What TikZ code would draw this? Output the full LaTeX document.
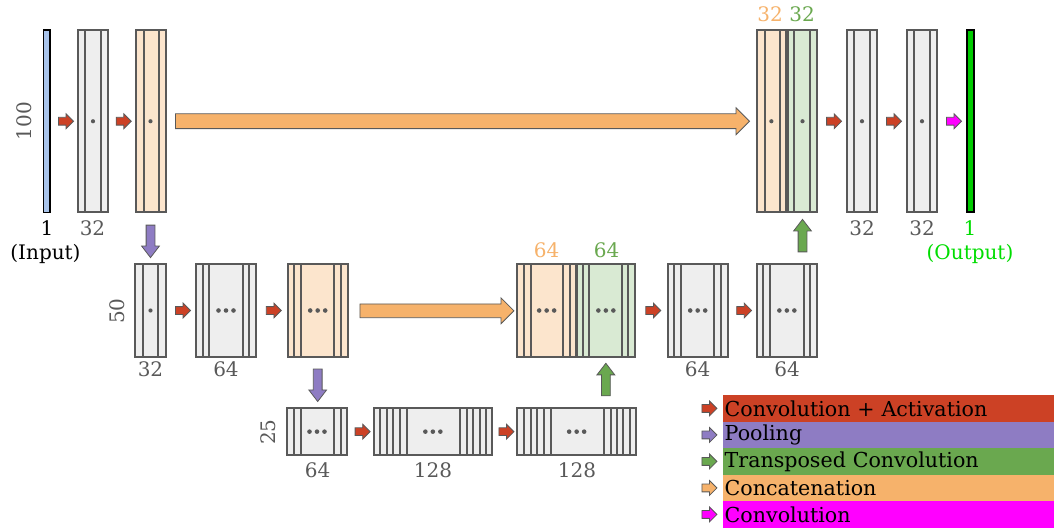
\documentclass[tikz,border=0pt]{standalone}
\usepackage{fontspec}
\setmainfont{DejaVu Serif}
\usetikzlibrary{shapes.arrows,calc}

\definecolor{ink}{HTML}{595959}
\definecolor{convred}{HTML}{CC4125}
\definecolor{poolpurple}{HTML}{8E7CC3}
\definecolor{upgreen}{HTML}{6AA84F}
\definecolor{catorange}{HTML}{F6B26B}
\definecolor{convmag}{HTML}{FF00FF}
\definecolor{mapgray}{HTML}{EEEEEE}
\definecolor{maporange}{HTML}{FCE5CD}
\definecolor{mapgreen}{HTML}{D9EAD3}
\definecolor{inblue}{HTML}{A9C4EB}
\definecolor{outgreen}{HTML}{00CC00}
\definecolor{outtext}{HTML}{00DD00}

% vertical channel separators inside a feature map
\newcommand\strips[2]{\foreach \o in {#2}{\draw[stripline] ([xshift=\o pt]#1.north west) -- ([xshift=\o pt]#1.south west);}}
\newcommand\onedot[1]{\fill[ink] (#1.center) circle (2.1pt);}
\newcommand\threedots[1]{\foreach \d in {-7.5,0,7.5}{\fill[ink] ([xshift=\d pt]#1.center) circle (2.3pt);}}

\begin{document}
\begin{tikzpicture}[x=1pt,y=-1pt,
  fmap/.style={rectangle, draw=ink, line width=2pt, inner sep=0pt, outer sep=0pt, anchor=north west},
  stripline/.style={draw=ink, line width=2pt},
  blockarrow/.style={single arrow, draw=black!65, line width=0.8pt, inner xsep=0pt,
    text height=0pt, text depth=0pt, text width=0pt, anchor=center, outer sep=0pt},
  smallarrow/.style={blockarrow, inner ysep=3.5pt, single arrow head extend=3.5pt, minimum height=15pt},
  vertarrow/.style={blockarrow, inner ysep=4pt, single arrow head extend=4.5pt,
    single arrow tip angle=75, minimum height=32.5pt},
  dimlabel/.style={text=ink, font=\fontsize{20}{22}\selectfont, inner sep=0pt},
  legbar/.style={rectangle, anchor=north west, inner xsep=1.5pt, inner ysep=0pt,
    text width=328pt, minimum height=26.5pt, align=left, text=black,
    font=\fontsize{20.6}{22}\selectfont}
]
\useasboundingbox (0,0) rectangle (1054,529);

% ---- top level (100 samples) ----
\node[fmap, fill=inblue, draw=black, line width=1.6pt, minimum width=6.5, minimum height=182.5] (in) at (43.5,30) {};
\node[fmap, fill=mapgray, minimum width=30, minimum height=182.5] (b1) at (78,30) {};
\node[fmap, fill=maporange, minimum width=30, minimum height=182.5] (b2) at (135.5,30) {};
\node[fmap, fill=maporange, minimum width=28.7, minimum height=182.5] (cat1o) at (757,30) {};
\node[fmap, fill=mapgreen, minimum width=29.6, minimum height=182.5] (cat1g) at (787.7,30) {};
\node[fmap, fill=mapgray, minimum width=30, minimum height=182.5] (b3) at (847,30) {};
\node[fmap, fill=mapgray, minimum width=30, minimum height=182.5] (b4) at (907,30) {};
\node[fmap, fill=outgreen, draw=black, minimum width=7, minimum height=182.5] (out) at (967,30) {};

\strips{b1}{6.7,23.3}
\strips{b2}{8,23}
\strips{cat1o}{7.5,23}
\strips{cat1g}{6.6,22.3}
\strips{b3}{6.5,23}
\strips{b4}{6.5,23}
\foreach \n in {b1,b2,cat1o,cat1g,b3,b4}{\onedot{\n}}

% ---- middle level (50 samples) ----
\node[fmap, fill=mapgray, minimum width=31, minimum height=92] (c1) at (135,264.5) {};
\node[fmap, fill=mapgray, minimum width=60, minimum height=92] (c2) at (196,264.5) {};
\node[fmap, fill=maporange, minimum width=60, minimum height=92] (c3) at (287.7,264.5) {};
\node[fmap, fill=maporange, minimum width=58.7, minimum height=92] (cat2o) at (517.3,264.5) {};
\node[fmap, fill=mapgreen, minimum width=58.3, minimum height=92] (cat2g) at (576.7,264.5) {};
\node[fmap, fill=mapgray, minimum width=60, minimum height=92] (c4) at (667.7,264.5) {};
\node[fmap, fill=mapgray, minimum width=60.3, minimum height=92] (c5) at (756.7,264.5) {};

\strips{c1}{7.7,23.3}
\strips{c2}{7.3,13.3,46.7,53.3}
\strips{c3}{6.6,13.3,46.6,53.3}
\strips{cat2o}{6.7,13.4,46,52.7}
\strips{cat2g}{6,12.6,45,51.6}
\strips{c4}{6.6,13.3,46.6,53.3}
\strips{c5}{6.6,13.3,47,53.6}
\onedot{c1}
\foreach \n in {c2,c3,cat2o,cat2g,c4,c5}{\threedots{\n}}

% ---- bottom level (25 samples) ----
\node[fmap, fill=mapgray, minimum width=60.6, minimum height=46.7] (d1) at (286.7,408.3) {};
\node[fmap, fill=mapgray, minimum width=117.7, minimum height=46.7] (d2) at (374,408.3) {};
\node[fmap, fill=mapgray, minimum width=118.7, minimum height=46.7] (d3) at (517.3,408.3) {};

\strips{d1}{7.3,14,47.3,54}
\strips{d2}{6,12.7,19.3,26,32.7,86,92.7,99.3,106,112}
\strips{d3}{6.7,13.4,19.4,26.7,33.4,86.7,93.4,100,106,112.7}
\foreach \n in {d1,d2,d3}{\threedots{\n}}

% ---- convolution + activation ----
\foreach \a/\b in {in/b1,b1/b2,cat1g/b3,b3/b4,c1/c2,c2/c3,cat2g/c4,c4/c5,d1/d2,d2/d3}{
  \node[smallarrow, fill=convred] (conv-\a) at ($(\a.east)!0.5!(\b.west)$) {};
}
% ---- final convolution ----
\node[smallarrow, fill=convmag] (conv-out) at ($(b4.east)!0.5!(out.west)$) {};

% ---- pooling ----
\node[vertarrow, fill=poolpurple, rotate=-90] (pool1) at ($(b2.south)!0.5!(b2.south|-c1.north)$) {};
\node[vertarrow, fill=poolpurple, rotate=-90] (pool2) at ($(c3.south)!0.5!(c3.south|-d1.north)$) {};

% ---- transposed convolution ----
\node[vertarrow, fill=upgreen, rotate=90] (up1) at ($(cat2g.south)!0.5!(cat2g.south|-d3.north)$) {};
\node[vertarrow, fill=upgreen, rotate=90] (up2) at ($(cat1g.south)!0.5!(cat1g.south|-c5.north)$) {};

% ---- skip connections (concatenation) ----
\node[blockarrow, fill=catorange, inner ysep=7pt, single arrow head extend=6pt, minimum height=574pt]
  (skip1) at ($(b2.east)!0.5!(cat1o.west)+(-2.5,0)$) {};
\node[blockarrow, fill=catorange, inner ysep=6.5pt, single arrow head extend=6pt, minimum height=154pt]
  (skip2) at ($(c3.east)!0.5!(cat2o.west)+(1,0.3)$) {};

% ---- sizes ----
\node[dimlabel, rotate=90] (s100) at (24,121) {100};
\node[dimlabel, rotate=90] (s50) at (117,311) {50};
\node[dimlabel, rotate=90] (s25) at (268,432) {25};

\node[dimlabel, text=black] (n-in) at (47,228) {1};
\node[dimlabel, text=black] (t-in) at (45.5,254) {(Input)};
\node[dimlabel] (n-b1) at (92.5,228) {32};
\node[dimlabel, text=catorange] (n-cat1o) at (770,14) {32};
\node[dimlabel, text=upgreen] (n-cat1g) at (802,14) {32};
\node[dimlabel] (n-b3) at (862,228) {32};
\node[dimlabel] (n-b4) at (922,228) {32};
\node[dimlabel, text=outtext] (n-out) at (970,228) {1};
\node[dimlabel, text=outtext] (t-out) at (970,254) {(Output)};

\node[dimlabel] (n-c1) at (150.5,369.5) {32};
\node[dimlabel] (n-c2) at (226,369.5) {64};
\node[dimlabel, text=catorange] (n-cat2o) at (546.7,250.5) {64};
\node[dimlabel, text=upgreen] (n-cat2g) at (606.5,250.5) {64};
\node[dimlabel] (n-c4) at (697.5,369.5) {64};
\node[dimlabel] (n-c5) at (787,369.5) {64};

\node[dimlabel] (n-d1) at (317.5,470) {64};
\node[dimlabel] (n-d2) at (433,470) {128};
\node[dimlabel] (n-d3) at (577,470) {128};

% ---- legend ----
\node[legbar, fill=convred] (leg1) at (723,395) {Convolution + Activation};
\node[legbar, fill=poolpurple] (leg2) at (723,421.5) {Pooling};
\node[legbar, fill=upgreen] (leg3) at (723,448) {Transposed Convolution};
\node[legbar, fill=catorange] (leg4) at (723,474.5) {Concatenation};
\node[legbar, fill=convmag] (leg5) at (723,501) {Convolution};
\foreach \i/\c in {1/convred,2/poolpurple,3/upgreen,4/catorange,5/convmag}{
  \node[smallarrow, fill=\c] (key\i) at ($(leg\i.west)+(-15.5,0)$) {};
}
\end{tikzpicture}
\end{document}
